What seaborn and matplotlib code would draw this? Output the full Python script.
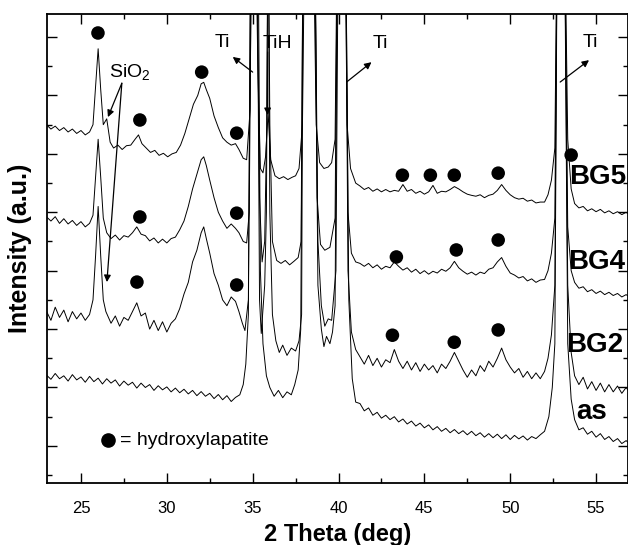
import numpy as np
import pandas as pd
import seaborn as sns
import matplotlib.pyplot as plt
from matplotlib.ticker import MultipleLocator, FixedLocator

# stacked XRD patterns as (2theta, intensity) pairs, arbitrary units.
# the strong Ti / TiH reflections run off the top of the frame (value 20)
as_points = [
    (23.0, 3.42), (23.25, 3.28), (23.5, 3.48), (23.75, 3.3), (24.0, 3.4), (24.25, 3.22),
    (24.5, 3.44), (24.75, 3.26), (25.0, 3.36), (25.25, 3.18), (25.5, 3.38), (25.75, 3.2),
    (26.0, 3.32), (26.25, 3.12), (26.5, 3.3), (26.75, 3.15), (27.0, 3.26), (27.25, 3.05),
    (27.5, 3.22), (27.75, 3.08), (28.0, 3.18), (28.25, 2.98), (28.5, 3.15), (28.75, 3.0),
    (29.0, 3.1), (29.25, 2.9), (29.5, 3.06), (29.75, 2.92), (30.0, 3.02), (30.25, 2.85),
    (30.5, 2.98), (30.75, 2.82), (31.0, 2.94), (31.25, 2.78), (31.5, 2.9), (31.75, 2.72),
    (32.0, 2.86), (32.25, 2.7), (32.5, 2.8), (32.75, 2.62), (33.0, 2.76), (33.25, 2.58),
    (33.5, 2.72), (33.75, 2.52), (34.0, 2.66), (34.25, 2.75), (34.45, 3.1), (34.6, 3.8),
    (34.75, 5.5), (34.9, 20), (35.3, 20), (35.45, 7.0), (35.6, 4.5), (35.8, 3.4),
    (36.0, 3.0), (36.25, 2.7), (36.5, 2.9), (36.75, 2.65), (37.0, 2.85), (37.25, 2.75),
    (37.45, 3.1), (37.65, 3.6), (37.8, 5.0), (37.95, 20), (38.6, 20), (38.8, 8.0),
    (39.0, 5.8), (39.2, 5.1), (39.4, 5.35), (39.6, 5.3), (39.85, 7.0), (40.0, 20),
    (40.4, 20), (40.6, 6.0), (40.8, 3.3), (41.0, 2.5), (41.25, 2.45), (41.5, 2.2),
    (41.75, 2.3), (42.0, 2.05), (42.25, 2.15), (42.5, 1.95), (42.75, 2.05), (43.0, 1.9),
    (43.25, 2.0), (43.5, 1.82), (43.75, 1.92), (44.0, 1.75), (44.25, 1.85), (44.5, 1.68),
    (44.75, 1.78), (45.0, 1.62), (45.25, 1.72), (45.5, 1.55), (45.75, 1.66), (46.0, 1.5),
    (46.25, 1.6), (46.5, 1.45), (46.75, 1.56), (47.0, 1.42), (47.25, 1.52), (47.5, 1.38),
    (47.75, 1.5), (48.0, 1.35), (48.25, 1.45), (48.5, 1.3), (48.75, 1.42), (49.0, 1.28),
    (49.25, 1.4), (49.5, 1.25), (49.75, 1.38), (50.0, 1.22), (50.25, 1.36), (50.5, 1.24),
    (50.75, 1.34), (51.0, 1.2), (51.25, 1.32), (51.5, 1.25), (51.75, 1.38), (52.0, 1.5),
    (52.25, 2.0), (52.45, 3.0), (52.6, 4.5), (52.75, 20), (53.15, 20), (53.35, 4.5),
    (53.55, 2.6), (53.75, 1.9), (54.0, 1.55), (54.25, 1.62), (54.5, 1.4), (54.75, 1.5),
    (55.0, 1.3), (55.25, 1.42), (55.5, 1.22), (55.75, 1.32), (56.0, 1.15), (56.25, 1.25),
    (56.5, 1.08), (56.75, 1.18), (57.0, 1.05),
]

bg2_points = [
    (23.0, 5.6), (23.25, 5.3), (23.5, 5.75), (23.75, 5.4), (24.0, 5.65), (24.25, 5.25),
    (24.5, 5.6), (24.75, 5.35), (25.0, 5.55), (25.25, 5.3), (25.5, 5.5), (25.7, 6.0),
    (25.85, 7.5), (26.0, 9.2), (26.15, 7.5), (26.3, 6.0), (26.45, 5.6), (26.75, 5.2),
    (27.0, 5.45), (27.25, 5.1), (27.5, 5.4), (27.75, 5.3), (28.0, 5.6), (28.25, 5.9),
    (28.5, 5.45), (28.75, 5.55), (29.0, 5.0), (29.25, 5.3), (29.5, 4.95), (29.75, 5.25),
    (30.0, 4.9), (30.25, 5.2), (30.5, 5.35), (30.75, 5.7), (31.0, 6.2), (31.25, 6.6),
    (31.5, 7.3), (31.75, 7.7), (32.0, 8.3), (32.15, 8.5), (32.3, 8.1), (32.5, 7.6),
    (32.75, 6.9), (33.0, 6.5), (33.25, 6.0), (33.5, 5.8), (33.75, 6.1), (34.0, 5.95),
    (34.2, 5.6), (34.4, 5.2), (34.55, 4.95), (34.75, 6.0), (34.9, 20), (35.25, 20),
    (35.4, 6.0), (35.5, 4.85), (35.7, 6.5), (35.8, 9.0), (35.9, 20), (36.0, 9.0),
    (36.15, 5.5), (36.35, 4.6), (36.55, 4.2), (36.75, 4.45), (37.0, 4.1), (37.25, 4.35),
    (37.5, 4.25), (37.7, 4.6), (37.85, 5.5), (37.95, 20), (38.6, 20), (38.8, 6.5),
    (39.0, 5.0), (39.15, 4.4), (39.3, 4.75), (39.5, 4.5), (39.65, 4.9), (39.8, 5.8),
    (39.95, 20), (40.4, 20), (40.55, 7.0), (40.75, 4.9), (41.0, 4.3), (41.25, 4.05),
    (41.5, 3.8), (41.75, 4.1), (42.0, 3.75), (42.25, 4.0), (42.5, 3.7), (42.75, 3.95),
    (43.0, 3.85), (43.25, 4.3), (43.5, 3.9), (43.75, 3.65), (44.0, 3.9), (44.25, 3.6),
    (44.5, 3.85), (44.75, 3.55), (45.0, 3.8), (45.25, 3.6), (45.5, 3.75), (45.75, 3.5),
    (46.0, 3.8), (46.25, 3.65), (46.5, 3.9), (46.75, 4.2), (47.0, 3.9), (47.25, 3.6),
    (47.5, 3.35), (47.75, 3.6), (48.0, 3.4), (48.25, 3.75), (48.5, 3.55), (48.75, 3.9),
    (49.0, 3.7), (49.25, 4.0), (49.5, 4.35), (49.75, 3.95), (50.0, 3.7), (50.25, 3.5),
    (50.5, 3.65), (50.75, 3.35), (51.0, 3.55), (51.25, 3.3), (51.5, 3.5), (51.75, 3.3),
    (52.0, 3.55), (52.2, 4.0), (52.4, 4.8), (52.6, 6.5), (52.75, 20), (53.15, 20),
    (53.35, 6.5), (53.55, 4.2), (53.75, 3.4), (54.0, 3.1), (54.25, 3.35), (54.5, 2.95),
    (54.75, 3.2), (55.0, 2.9), (55.25, 3.15), (55.5, 2.85), (55.75, 3.1), (56.0, 2.85),
    (56.25, 3.05), (56.5, 2.8), (56.75, 3.0), (57.0, 2.8),
]

bg4_points = [
    (23.0, 8.84), (23.25, 8.7), (23.5, 8.85), (23.75, 8.62), (24.0, 8.78), (24.25, 8.6),
    (24.5, 8.72), (24.75, 8.55), (25.0, 8.68), (25.25, 8.5), (25.5, 8.62), (25.7, 8.9),
    (25.85, 10.2), (26.0, 11.5), (26.15, 10.2), (26.3, 8.8), (26.5, 8.3), (26.75, 8.1),
    (27.0, 8.22), (27.25, 8.05), (27.5, 8.2), (27.75, 8.15), (28.0, 8.3), (28.25, 8.5),
    (28.5, 8.25), (28.75, 8.2), (29.0, 8.02), (29.25, 8.12), (29.5, 7.95), (29.75, 8.08),
    (30.0, 7.95), (30.25, 8.1), (30.5, 8.15), (30.75, 8.4), (31.0, 8.7), (31.25, 9.2),
    (31.5, 9.8), (31.75, 10.3), (32.0, 10.8), (32.15, 10.9), (32.3, 10.6), (32.5, 10.1),
    (32.75, 9.5), (33.0, 9.0), (33.25, 8.7), (33.5, 8.45), (33.75, 8.6), (34.0, 8.45),
    (34.2, 8.3), (34.45, 8.0), (34.65, 7.95), (34.8, 9.0), (34.95, 20), (35.2, 20),
    (35.4, 9.5), (35.55, 7.3), (35.7, 8.0), (35.82, 12.0), (35.9, 20), (36.0, 12.0),
    (36.15, 8.0), (36.4, 7.35), (36.65, 7.25), (36.9, 7.35), (37.15, 7.2), (37.4, 7.32),
    (37.65, 7.45), (37.82, 8.0), (37.95, 20), (38.6, 20), (38.75, 9.5), (38.95, 7.9),
    (39.2, 7.7), (39.5, 7.8), (39.8, 8.8), (39.95, 20), (40.4, 20), (40.55, 9.0),
    (40.75, 7.6), (41.0, 7.3), (41.25, 7.25), (41.5, 7.15), (41.75, 7.25), (42.0, 7.1),
    (42.25, 7.2), (42.5, 7.05), (42.75, 7.15), (43.0, 7.1), (43.25, 7.3), (43.5, 7.15),
    (43.75, 7.02), (44.0, 7.1), (44.25, 6.95), (44.5, 7.05), (44.75, 6.9), (45.0, 7.0),
    (45.25, 6.88), (45.5, 6.98), (45.75, 6.92), (46.0, 7.05), (46.25, 6.98), (46.5, 7.1),
    (46.75, 7.32), (47.0, 7.1), (47.25, 6.98), (47.5, 6.88), (47.75, 6.95), (48.0, 6.85),
    (48.25, 6.95), (48.5, 6.9), (48.75, 7.05), (49.0, 7.1), (49.25, 7.3), (49.5, 7.45),
    (49.75, 7.15), (50.0, 6.92), (50.25, 6.85), (50.5, 6.75), (50.75, 6.8), (51.0, 6.65),
    (51.25, 6.72), (51.5, 6.6), (51.75, 6.68), (52.0, 6.7), (52.2, 7.0), (52.4, 7.6),
    (52.6, 8.8), (52.75, 20), (53.15, 20), (53.35, 8.5), (53.55, 7.0), (53.75, 6.6),
    (54.0, 6.4), (54.25, 6.45), (54.5, 6.28), (54.75, 6.35), (55.0, 6.22), (55.25, 6.3),
    (55.5, 6.18), (55.75, 6.26), (56.0, 6.15), (56.25, 6.22), (56.5, 6.1), (56.75, 6.18),
    (57.0, 6.08),
]

bg5_points = [
    (23.0, 11.99), (23.25, 11.85), (23.5, 11.95), (23.75, 11.8), (24.0, 11.9), (24.25, 11.75),
    (24.5, 11.85), (24.75, 11.7), (25.0, 11.8), (25.25, 11.65), (25.5, 11.75), (25.7, 12.0),
    (25.85, 13.3), (26.0, 14.6), (26.15, 13.2), (26.3, 12.0), (26.5, 12.2), (26.7, 11.4),
    (26.9, 11.2), (27.15, 11.3), (27.4, 11.15), (27.65, 11.28), (27.9, 11.3), (28.15, 11.5),
    (28.35, 11.65), (28.55, 11.35), (28.8, 11.2), (29.05, 11.05), (29.3, 11.12), (29.55, 10.95),
    (29.8, 11.02), (30.05, 10.9), (30.3, 11.0), (30.55, 11.05), (30.8, 11.3), (31.05, 11.7),
    (31.3, 12.2), (31.55, 12.7), (31.8, 13.0), (32.0, 13.4), (32.15, 13.45), (32.3, 13.2),
    (32.5, 12.9), (32.75, 12.3), (33.0, 11.9), (33.25, 11.55), (33.5, 11.4), (33.75, 11.3),
    (34.0, 11.35), (34.2, 11.15), (34.45, 10.85), (34.65, 10.8), (34.85, 12.5), (34.95, 20),
    (35.15, 20), (35.3, 14.0), (35.45, 10.5), (35.6, 10.35), (35.75, 10.9), (35.9, 12.4),
    (36.05, 10.8), (36.3, 10.25), (36.55, 10.15), (36.8, 10.22), (37.05, 10.12), (37.3, 10.2),
    (37.5, 10.25), (37.7, 10.5), (37.9, 12.0), (38.05, 20), (38.5, 20), (38.7, 12.0),
    (38.9, 10.7), (39.15, 10.5), (39.4, 10.55), (39.6, 10.7), (39.8, 11.5), (39.95, 20),
    (40.35, 20), (40.5, 12.0), (40.7, 10.5), (41.0, 10.0), (41.25, 9.9), (41.5, 9.78),
    (41.75, 9.85), (42.0, 9.72), (42.25, 9.8), (42.5, 9.7), (42.75, 9.78), (43.0, 9.7),
    (43.25, 9.75), (43.5, 9.72), (43.75, 9.95), (44.0, 9.72), (44.25, 9.78), (44.5, 9.65),
    (44.75, 9.72), (45.0, 9.62), (45.25, 9.7), (45.5, 9.92), (45.75, 9.65), (46.0, 9.72),
    (46.25, 9.7), (46.5, 9.78), (46.75, 9.88), (47.0, 9.8), (47.25, 9.7), (47.5, 9.62),
    (47.75, 9.58), (48.0, 9.55), (48.25, 9.6), (48.5, 9.5), (48.75, 9.58), (49.0, 9.62),
    (49.25, 9.75), (49.5, 9.95), (49.75, 9.75), (50.0, 9.6), (50.25, 9.5), (50.5, 9.45),
    (50.75, 9.48), (51.0, 9.38), (51.25, 9.42), (51.5, 9.32), (51.75, 9.35), (52.0, 9.35),
    (52.2, 9.6), (52.4, 10.1), (52.6, 11.2), (52.75, 20), (53.15, 20), (53.35, 11.5),
    (53.55, 9.8), (53.75, 9.3), (54.0, 9.15), (54.25, 9.2), (54.5, 9.05), (54.75, 9.12),
    (55.0, 9.02), (55.25, 9.1), (55.5, 8.98), (55.75, 9.05), (56.0, 8.95), (56.25, 9.02),
    (56.5, 8.92), (56.75, 9.0), (57.0, 8.9),
]

# hydroxylapatite markers
hap_x = [25.99, 28.43, 32.03, 34.07, 28.43, 34.07, 28.26, 34.07, 43.72, 45.35, 46.74, 49.30,
         53.55, 43.37, 46.86, 49.30, 43.14, 46.74, 49.30]
hap_y = [15.14, 12.16, 13.80, 11.71, 8.84, 8.97, 6.61, 6.51, 10.27, 10.27, 10.27, 10.34,
         10.96, 7.47, 7.71, 8.05, 4.79, 4.55, 4.97]

sample_names = ['as', 'BG2', 'BG4', 'BG5']
label_x = [53.84, 53.26, 53.37, 53.43]
label_y = [2.16, 4.45, 7.29, 10.2]

sns.set_theme(style='ticks')
plt.rcParams['font.family'] = ['Liberation Sans', 'DejaVu Sans']
plt.rcParams['mathtext.fontset'] = 'custom'
plt.rcParams['mathtext.rm'] = 'Liberation Sans'
plt.rcParams['mathtext.it'] = 'Liberation Sans:italic'
plt.rcParams['text.color'] = 'black'
plt.rcParams['axes.labelcolor'] = 'black'
plt.rcParams['xtick.color'] = 'black'
plt.rcParams['ytick.color'] = 'black'


def build_frame():
    frames = []
    for name, pts in zip(sample_names, [as_points, bg2_points, bg4_points, bg5_points]):
        xs, ys = zip(*pts)
        frames.append(pd.DataFrame({'theta': xs, 'intensity': ys, 'sample': name}))
    return pd.concat(frames, ignore_index=True)


def main():
    df = build_frame()
    fig = plt.figure(figsize=(6.28, 5.45), dpi=100)
    ax = fig.add_axes([0.0748, 0.1138, 0.9252, 0.8605])

    sns.lineplot(data=df, x='theta', y='intensity', units='sample', estimator=None,
                 sort=False, color='black', linewidth=0.7, ax=ax)
    sns.scatterplot(x=hap_x, y=hap_y, color='black', s=95, edgecolor='none', zorder=5, ax=ax)

    ax.set_xlim(23.02, 56.86)
    ax.set_ylim(-0.27, 15.79)
    ax.xaxis.set_major_locator(MultipleLocator(5))
    ax.xaxis.set_minor_locator(MultipleLocator(2.5))
    ax.yaxis.set_major_locator(FixedLocator(np.arange(1, 16, 2)))
    ax.yaxis.set_minor_locator(FixedLocator(np.arange(0, 16, 2)))
    ax.set_yticklabels([])
    ax.tick_params(which='both', direction='in', top=True, right=True, width=1.0, color='black')
    ax.tick_params(which='major', length=7)
    ax.tick_params(which='minor', length=3.6)
    ax.tick_params(axis='x', labelsize=12, pad=13)
    for sp in ax.spines.values():
        sp.set_linewidth(1.3)
        sp.set_color('black')

    ax.set_xlabel('2 Theta (deg)', fontsize=17, fontweight='bold', labelpad=5)
    ax.set_ylabel('Intensity (a.u.)', fontsize=18, fontweight='bold', labelpad=7)

    for name, lx, ly in zip(sample_names, label_x, label_y):
        ax.text(lx, ly, name, fontsize=20, fontweight='bold', ha='left', va='center')

    arrow = dict(arrowstyle='-|>', color='black', lw=0.9, mutation_scale=10, shrinkA=0, shrinkB=0)
    ax.text(33.26, 14.83, 'Ti', fontsize=14, ha='center', va='center')
    ax.annotate('', xy=(33.84, 14.32), xytext=(35.0, 13.8), arrowprops=arrow)
    ax.text(36.45, 14.79, 'TiH', fontsize=14, ha='center', va='center')
    ax.annotate('', xy=(35.87, 12.33), xytext=(35.87, 14.49), arrowprops=arrow)
    ax.text(42.44, 14.79, 'Ti', fontsize=14, ha='center', va='center')
    ax.annotate('', xy=(41.92, 14.14), xytext=(40.47, 13.46), arrowprops=arrow)
    ax.text(54.65, 14.83, 'Ti', fontsize=14, ha='center', va='center')
    ax.annotate('', xy=(54.59, 14.21), xytext=(52.91, 13.46), arrowprops=arrow)
    ax.text(27.85, 13.8, 'SiO$_2$', fontsize=14, ha='center', va='center')
    ax.annotate('', xy=(26.57, 12.26), xytext=(27.38, 13.42), arrowprops=arrow)
    ax.annotate('', xy=(26.51, 6.61), xytext=(27.38, 13.42), arrowprops=arrow)

    ax.plot([26.57], [1.2], 'o', color='black', markersize=9.5)
    ax.text(27.27, 1.2, '= hydroxylapatite', fontsize=14, ha='left', va='center')

    fig.savefig('out.png', dpi=100)


if __name__ == '__main__':
    main()
